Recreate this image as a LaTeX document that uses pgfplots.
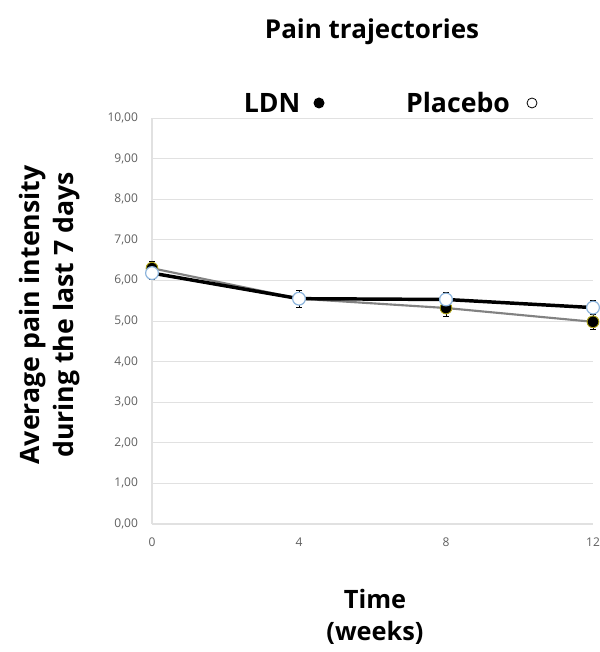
\documentclass[border=0pt]{standalone}
\usepackage{pgfplots}
\pgfplotsset{compat=1.18}
\usepackage{fontspec}
\setmainfont{Open Sans}
\definecolor{gridgray}{RGB}{225,225,225}
\definecolor{ticktext}{RGB}{95,95,95}
\definecolor{ldnline}{RGB}{130,130,130}
\definecolor{ldnedge}{RGB}{170,160,20}
\definecolor{plcedge}{RGB}{140,180,220}
\begin{document}
\begin{tikzpicture}[x=0.75pt,y=0.75pt]
% fixed page: 599 x 652 px, plot area lower-left at (152,524) px in the image
\path[use as bounding box] (-152,-128) rectangle (447,524);
\begin{axis}[
    at={(0,0)}, anchor=south west,
    scale only axis,
    width=330.75pt, height=304.5pt,
    xmin=0, xmax=12, ymin=0, ymax=10,
    xtick={0,4,8,12}, ytick={0,1,...,10},
    axis lines*=left,
    axis line style={draw=gridgray, line width=0.8pt},
    major tick length=0pt,
    ymajorgrids, grid style={draw=gridgray, line width=0.6pt},
    tick label style={font=\fontsize{9}{10}\selectfont, text=ticktext},
    yticklabel style={/pgf/number format/fixed, /pgf/number format/fixed zerofill,
        /pgf/number format/precision=2, /pgf/number format/use comma, xshift=-7pt},
    /pgf/number format/assume math mode=true,
    xticklabel style={yshift=-7pt},
    clip=false,
]
% LDN (filled markers, grey line)
\addplot[ldnline, line width=1.6pt, mark=*, mark size=4.4pt,
    mark options={fill=black, draw=ldnedge, line width=0.7pt},
    error bars/.cd, y dir=both, y explicit,
    error bar style={black, line width=0.5pt}, error mark options={rotate=90, mark size=2pt, black}]
    coordinates {(0,6.30) +- (0,0.18) (4,5.55) +- (0,0.20) (8,5.32) +- (0,0.20) (12,4.98) +- (0,0.18)};
% Placebo (open markers, black line)
\addplot[black, line width=2.6pt, mark=*, mark size=4.8pt,
    mark options={fill=white, draw=plcedge, line width=0.9pt},
    error bars/.cd, y dir=both, y explicit,
    error bar style={black, line width=0.5pt}, error mark options={rotate=90, mark size=2pt, black}]
    coordinates {(0,6.18) +- (0,0.15) (4,5.55) +- (0,0.20) (8,5.53) +- (0,0.18) (12,5.33) +- (0,0.17)};
\end{axis}
% title, legend and axis titles
\node[font=\fontsize{19.5}{22}\selectfont\bfseries] at (220,492) {Pain trajectories};
\node[font=\fontsize{20}{24}\selectfont\bfseries] at (120,421) {LDN};
\fill[black] (167,421) circle (5.5);
\node[font=\fontsize{20}{24}\selectfont\bfseries] at (306,421) {Placebo};
\draw[black, line width=0.6pt] (380,421) circle (5);
\node[rotate=90, align=center, font=\fontsize{20}{25.5}\selectfont\bfseries] at (-102,209)
    {Average pain intensity\\during the last 7 days};
\node[align=center, font=\fontsize{19}{24}\selectfont\bfseries] at (223,-93) {Time\\(weeks)};
\end{tikzpicture}
\end{document}
